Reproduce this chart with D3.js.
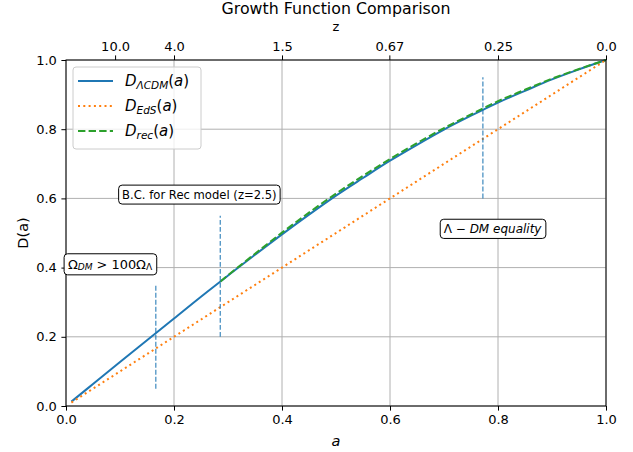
<!DOCTYPE html>
<html>
<head>
<meta charset="utf-8">
<script src="https://cdn.jsdelivr.net/npm/d3@7"></script>
<style>
  html, body { margin: 0; padding: 0; background: #fff; }
  svg text { font-family: "DejaVu Sans", sans-serif; fill: #000; }
</style>
</head>
<body>
<svg id="chart" width="633" height="452"></svg>
<script>
// Scale factor a and growth function values
const aLCDM = [0.01, 0.05, 0.10, 0.15, 0.20, 0.25, 0.30, 0.35, 0.40, 0.45, 0.50, 0.55, 0.60, 0.65, 0.70, 0.75, 0.80, 0.85, 0.90, 0.95, 1.00];
const dLCDM = [0.0127, 0.0635, 0.127, 0.190, 0.253, 0.316, 0.377, 0.437, 0.496, 0.553, 0.608, 0.659, 0.709, 0.755, 0.799, 0.839, 0.877, 0.911, 0.944, 0.973, 1.000];

const aEdS = [0.01, 0.25, 0.50, 0.75, 1.00];
const dEdS = [0.01, 0.25, 0.50, 0.75, 1.00];

const aRec = [0.286, 0.30, 0.35, 0.40, 0.45, 0.50, 0.55, 0.60, 0.65, 0.70, 0.75, 0.80, 0.85, 0.90, 0.95, 1.00];
const dRec = [0.360, 0.378, 0.440, 0.501, 0.559, 0.614, 0.665, 0.714, 0.760, 0.803, 0.843, 0.881, 0.914, 0.946, 0.974, 1.000];

// Vertical markers: epoch a, lower and upper extent
const markerA  = [0.1663, 0.2857, 0.772];
const markerLo = [0.05, 0.20, 0.60];
const markerHi = [0.35, 0.55, 0.95];

// Axis ticks
const xTicks = [0.0, 0.2, 0.4, 0.6, 0.8, 1.0];
const yTicks = [0.0, 0.2, 0.4, 0.6, 0.8, 1.0];
const zTicks = [10.0, 4.0, 1.5, 0.67, 0.25, 0.0];
const zTickLabels = ["10.0", "4.0", "1.5", "0.67", "0.25", "0.0"];

const colors = { lcdm: "#1f77b4", eds: "#ff7f0e", rec: "#2ca02c" };

const svg = d3.select("#chart");
const m = { left: 66, right: 606, top: 60, bottom: 406 };
const x = d3.scaleLinear().domain([0, 1]).range([m.left, m.right]);
const y = d3.scaleLinear().domain([0, 1]).range([m.bottom, m.top]);

// Grid
const grid = svg.append("g");
grid.selectAll("line.gx").data(xTicks).join("line")
  .attr("x1", d => x(d)).attr("x2", d => x(d))
  .attr("y1", m.top).attr("y2", m.bottom)
  .attr("stroke", "#b0b0b0").attr("stroke-width", 1);
grid.selectAll("line.gy").data(yTicks).join("line")
  .attr("x1", m.left).attr("x2", m.right)
  .attr("y1", d => y(d)).attr("y2", d => y(d))
  .attr("stroke", "#b0b0b0").attr("stroke-width", 1);

// Curves
const plot = svg.append("g");
const line = d3.line().x(d => x(d[0])).y(d => y(d[1])).curve(d3.curveMonotoneX);

plot.append("path").datum(d3.zip(aLCDM, dLCDM))
  .attr("d", line).attr("fill", "none")
  .attr("stroke", colors.lcdm).attr("stroke-width", 2);
plot.append("path").datum(d3.zip(aEdS, dEdS))
  .attr("d", line).attr("fill", "none")
  .attr("stroke", colors.eds).attr("stroke-width", 2)
  .attr("stroke-dasharray", "2,3.3");
plot.append("path").datum(d3.zip(aRec, dRec))
  .attr("d", line).attr("fill", "none")
  .attr("stroke", colors.rec).attr("stroke-width", 2)
  .attr("stroke-dasharray", "7.4,3.2");

// Vertical epoch markers
plot.selectAll("line.marker").data(d3.range(markerA.length)).join("line")
  .attr("x1", i => x(markerA[i])).attr("x2", i => x(markerA[i]))
  .attr("y1", i => y(markerLo[i])).attr("y2", i => y(markerHi[i]))
  .attr("stroke", colors.lcdm).attr("stroke-width", 1.3)
  .attr("stroke-opacity", 0.8)
  .attr("stroke-dasharray", "4.9,2.1");

// Axes
const axisFont = 13;
const labelFont = 14.5;
const bottomAxis = d3.axisBottom(x).tickValues(xTicks).tickFormat(d3.format(".1f")).tickSizeOuter(0).tickSize(4.6).tickPadding(4.6);
const leftAxis = d3.axisLeft(y).tickValues(yTicks).tickFormat(d3.format(".1f")).tickSizeOuter(0).tickSize(4.6).tickPadding(4.6);
const topAxis = d3.axisTop(x).tickValues(zTicks.map(z => 1 / (1 + z)))
  .tickFormat((d, i) => zTickLabels[i]).tickSizeOuter(0).tickSize(4.6).tickPadding(4.6);

function styleAxis(g) {
  g.select(".domain").remove();
  g.selectAll(".tick line").attr("stroke", "#000").attr("stroke-width", 1);
  g.selectAll(".tick text").attr("font-size", axisFont).attr("font-family", "DejaVu Sans").attr("fill", "#000");
}
svg.append("g").attr("transform", `translate(0,${m.bottom})`).call(bottomAxis).call(styleAxis);
svg.append("g").attr("transform", `translate(${m.left},0)`).call(leftAxis).call(styleAxis);
svg.append("g").attr("transform", `translate(0,${m.top})`).call(topAxis).call(styleAxis);

// Frame
svg.append("rect")
  .attr("x", m.left).attr("y", m.top)
  .attr("width", m.right - m.left).attr("height", m.bottom - m.top)
  .attr("fill", "none").attr("stroke", "#000").attr("stroke-width", 1);

// Titles and axis labels
svg.append("text").attr("x", (m.left + m.right) / 2).attr("y", 14)
  .attr("text-anchor", "middle").attr("font-size", 15.8).text("Growth Function Comparison");
svg.append("text").attr("x", (m.left + m.right) / 2).attr("y", 31)
  .attr("text-anchor", "middle").attr("font-size", axisFont).text("z");
svg.append("text").attr("x", (m.left + m.right) / 2).attr("y", 446)
  .attr("text-anchor", "middle").attr("font-size", labelFont).attr("font-style", "italic").text("a");
svg.append("text").attr("transform", `translate(28,${(m.top + m.bottom) / 2}) rotate(-90)`)
  .attr("text-anchor", "middle").attr("font-size", labelFont).text("D(a)");

// Annotation boxes
function addSpans(t, parts, fs) {
  parts.forEach(p => {
    const s = t.append("tspan").text(p.t);
    const size = p.sub ? fs * 0.7 : fs;
    s.attr("font-size", size);
    if (p.it) s.attr("font-style", "italic");
    if (p.sub) s.attr("dy", fs * 0.22);
    if (p.unsub) s.attr("dy", -fs * 0.22);
  });
}
function annotate(ax, ay, parts, fs, padX) {
  const g = svg.append("g");
  const t = g.append("text").attr("x", x(ax)).attr("y", y(ay))
    .attr("text-anchor", "middle").attr("dominant-baseline", "central")
    .attr("xml:space", "preserve");
  addSpans(t, parts, fs);
  const bb = t.node().getBBox();
  const pad = 0.3 * fs;
  const px = padX != null ? padX : pad;
  g.insert("rect", "text")
    .attr("x", bb.x - px).attr("y", bb.y - pad + 1)
    .attr("width", bb.width + 2 * px).attr("height", bb.height + 2 * pad - 2)
    .attr("rx", 3.5).attr("ry", 3.5)
    .attr("fill", "#fff").attr("stroke", "#000").attr("stroke-width", 1);
}
const annFont = 11.6;
annotate(0.247, 0.611, [{ t: "B.C. for Rec model (z=2.5)" }], annFont);
annotate(0.0815, 0.410, [
  { t: "Ω" }, { t: "DM", it: true, sub: true }, { t: " > 100Ω", unsub: true }, { t: "Λ", sub: true }
], 12.9, 3.8);
annotate(0.790, 0.512, [{ t: "Λ − " }, { t: "DM equality", it: true }], 12, 3.5);

// Legend
const lg = svg.append("g");
lg.append("rect").attr("x", 73).attr("y", 67).attr("width", 128).attr("height", 82)
  .attr("rx", 3).attr("ry", 3)
  .attr("fill", "#fff").attr("fill-opacity", 0.8)
  .attr("stroke", "#cccccc").attr("stroke-width", 1);
const legendItems = [
  { sub: "ΛCDM", color: colors.lcdm, dash: null },
  { sub: "EdS", color: colors.eds, dash: "2,3.3" },
  { sub: "rec", color: colors.rec, dash: "7.4,3.2" }
];
const legFont = 15;
legendItems.forEach((it, i) => {
  const yy = 81 + i * 25;
  const l = lg.append("line").attr("x1", 78).attr("x2", 113).attr("y1", yy).attr("y2", yy)
    .attr("stroke", it.color).attr("stroke-width", 2);
  if (it.dash) l.attr("stroke-dasharray", it.dash);
  const t = lg.append("text").attr("x", 125).attr("y", yy + 5);
  addSpans(t, [
    { t: "D", it: true },
    { t: it.sub, it: true, sub: true },
    { t: "(", unsub: true }, { t: "a", it: true }, { t: ")" }
  ], legFont);
});
</script>
</body>
</html>
